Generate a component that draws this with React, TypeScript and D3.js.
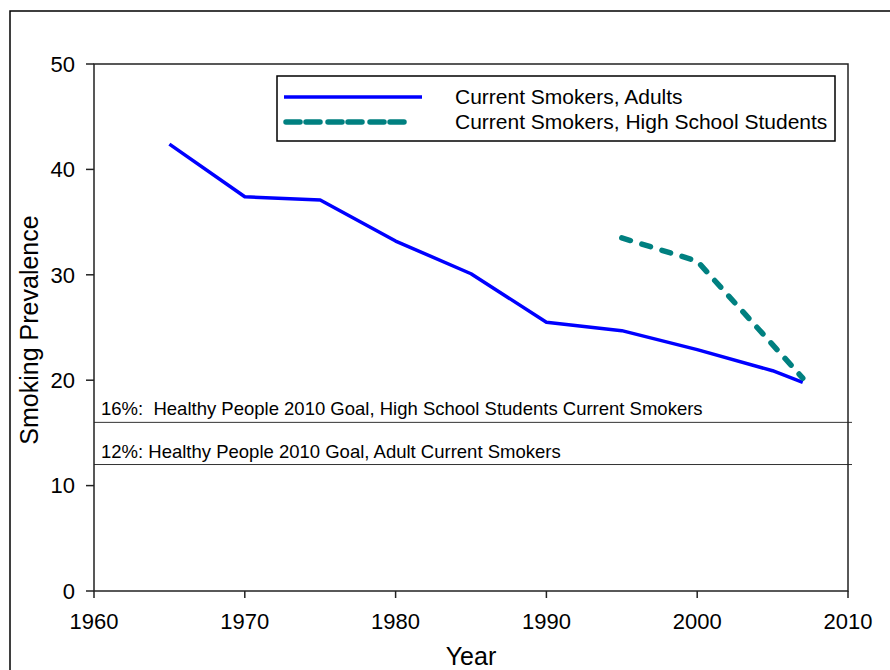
import React from "react";
import * as d3 from "d3";

const adultYears = [1965, 1970, 1975, 1980, 1985, 1990, 1995, 2000, 2005, 2007];
const adultValues = [42.4, 37.4, 37.1, 33.2, 30.1, 25.5, 24.7, 22.9, 20.9, 19.8];

const studentYears = [1995, 2000, 2007];
const studentValues = [33.5, 31.3, 20.2];

const goalValues = [16, 12];
const goalLabels = [
  "16%:  Healthy People 2010 Goal, High School Students Current Smokers",
  "12%: Healthy People 2010 Goal, Adult Current Smokers",
];

const xTicks = [1960, 1970, 1980, 1990, 2000, 2010];
const yTicks = [0, 10, 20, 30, 40, 50];

const legendLabels = ["Current Smokers, Adults", "Current Smokers, High School Students"];

const W = 890;
const H = 670;
const left = 94;
const right = 848;
const top = 64;
const bottom = 591;
const font = "'Liberation Sans', Arial, sans-serif";

export default function App() {
  const x = d3.scaleLinear().domain([1960, 2010]).range([left, right]);
  const y = d3.scaleLinear().domain([0, 50]).range([bottom, top]);

  const line = d3
    .line<[number, number]>()
    .x((d) => x(d[0]))
    .y((d) => y(d[1]));

  const adultPath = line(adultYears.map((yr, i) => [yr, adultValues[i]]));
  const studentPath = line(studentYears.map((yr, i) => [yr, studentValues[i]]));

  return (
    <svg
      width={W}
      height={H}
      style={{ position: "absolute", left: 0, top: 0, fontFamily: font }}
    >
      <rect x={0} y={0} width={W} height={H} fill="#fff" />
      {/* outer frame */}
      <rect x={10} y={11} width={W + 20} height={H + 20} fill="none" stroke="#000" strokeWidth={1.5} />

      {/* goal lines */}
      {goalValues.map((g, i) => (
        <g key={g}>
          <line x1={left} x2={right + 4} y1={y(g)} y2={y(g)} stroke="#333" strokeWidth={1} />
          <text
            x={left + 7}
            y={y(g) - 7}
            fontSize={18.5}
            fill="#000"
            style={{ whiteSpace: "pre" }}
            xmlSpace="preserve"
          >
            {goalLabels[i]}
          </text>
        </g>
      ))}

      {/* plot frame */}
      <rect
        x={left}
        y={top}
        width={right - left}
        height={bottom - top}
        fill="none"
        stroke="#222"
        strokeWidth={1.5}
      />

      {/* y ticks */}
      {yTicks.map((t) => (
        <g key={t}>
          <line x1={left - 8} x2={left} y1={y(t)} y2={y(t)} stroke="#222" strokeWidth={1.5} />
          <text x={left - 19} y={y(t)} dy="0.35em" fontSize={22} textAnchor="end" fill="#000">
            {t}
          </text>
        </g>
      ))}

      {/* x ticks */}
      {xTicks.map((t) => (
        <g key={t}>
          <line x1={x(t)} x2={x(t)} y1={bottom} y2={bottom + 7} stroke="#222" strokeWidth={1.5} />
          <text x={x(t)} y={bottom + 38} fontSize={22} textAnchor="middle" fill="#000">
            {t}
          </text>
        </g>
      ))}

      {/* axis titles */}
      <text x={471} y={665} fontSize={25} textAnchor="middle" fill="#000">
        Year
      </text>
      <text
        transform={`translate(38, 330) rotate(-90)`}
        fontSize={25}
        textAnchor="middle"
        fill="#000"
      >
        Smoking Prevalence
      </text>

      {/* series */}
      <path d={adultPath ?? ""} fill="none" stroke="#0000ff" strokeWidth={3.5} strokeLinejoin="round" />
      <path
        d={studentPath ?? ""}
        fill="none"
        stroke="#008080"
        strokeWidth={5.5}
        strokeDasharray="9 12"
        strokeLinecap="round"
      />

      {/* legend */}
      <rect x={277} y={76} width={558} height={65} fill="#fff" stroke="#000" strokeWidth={1.5} />
      <line x1={284} x2={422} y1={97} y2={97} stroke="#0000ff" strokeWidth={3.5} />
      <line
        x1={286}
        x2={408}
        y1={122}
        y2={122}
        stroke="#008080"
        strokeWidth={5.5}
        strokeDasharray="14 6 14 8"
        strokeLinecap="round"
      />
      {legendLabels.map((l, i) => (
        <text key={l} x={455} y={97 + i * 25} dy="0.35em" fontSize={21} fill="#000">
          {l}
        </text>
      ))}
    </svg>
  );
}
